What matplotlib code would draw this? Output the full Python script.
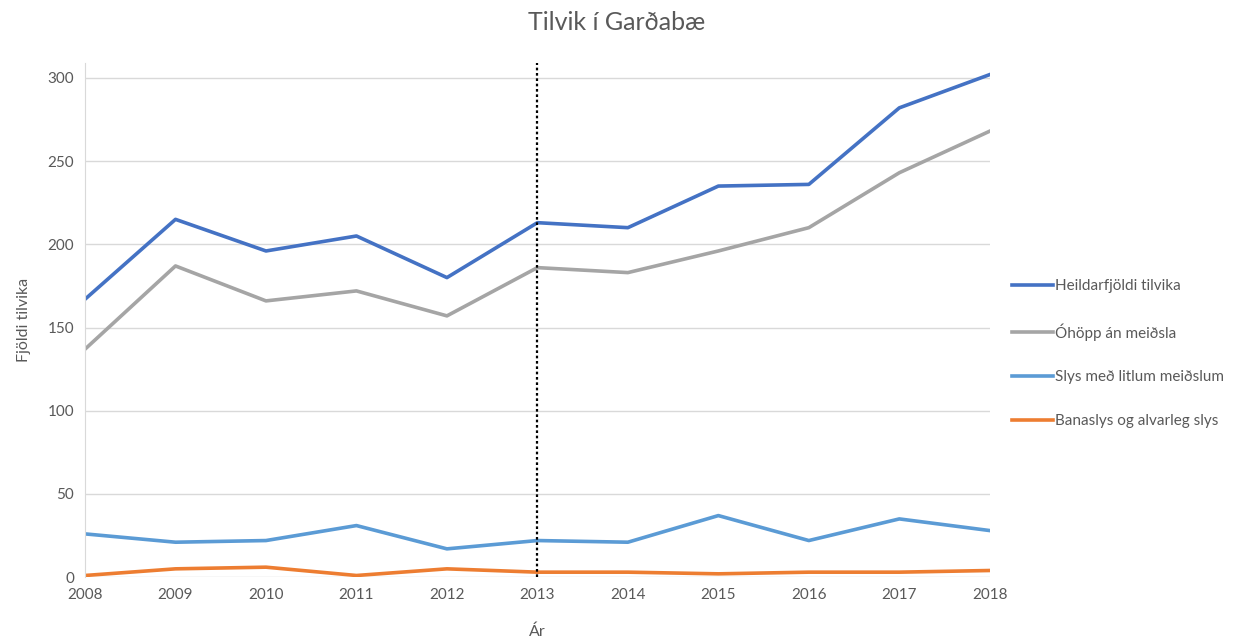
import matplotlib.pyplot as plt
import numpy as np

plt.rcParams['font.family'] = ['Lato', 'DejaVu Sans']

ar = [2008, 2009, 2010, 2011, 2012, 2013, 2014, 2015, 2016, 2017, 2018]
heild = [167, 215, 196, 205, 180, 213, 210, 235, 236, 282, 302]
ohopp = [137, 187, 166, 172, 157, 186, 183, 196, 210, 243, 268]
litil = [26, 21, 22, 31, 17, 22, 21, 37, 22, 35, 28]
bana = [1, 5, 6, 1, 5, 3, 3, 2, 3, 3, 4]

textcol = '#595959'

fig = plt.figure(figsize=(12.54, 6.42), dpi=100)
ax = fig.add_axes([0.0678, 0.101, 0.7215, 0.801])

ax.plot(ar, heild, color='#4472C4', lw=2.6, label='Heildarfjöldi tilvika')
ax.plot(ar, ohopp, color='#A5A5A5', lw=2.6, label='Óhöpp án meiðsla')
ax.plot(ar, litil, color='#5B9BD5', lw=2.6, label='Slys með litlum meiðslum')
ax.plot(ar, bana, color='#ED7D31', lw=2.6, label='Banaslys og alvarleg slys')

# lóðrétt lína við 2013
ax.axvline(2013, color='black', lw=1.6, ls=(0, (1.2, 1.2)), zorder=5)

ax.set_xlim(2008, 2018)
ax.set_ylim(0, 309)
ax.set_xticks(ar)
ax.set_yticks([0, 50, 100, 150, 200, 250, 300])
ax.grid(axis='y', color='#d9d9d9', lw=1)
ax.set_axisbelow(True)
for s in ['top', 'right', 'bottom']:
    ax.spines[s].set_visible(False)
ax.spines['left'].set_color('#d9d9d9')
ax.tick_params(length=0, labelsize=11, colors=textcol, pad=8)

fig.text(617 / 1254, 1 - 22 / 642, 'Tilvik í Garðabæ', fontsize=18,
         color=textcol, ha='center', va='center')
ax.set_xlabel('Ár', fontsize=11.5, color=textcol, labelpad=16)
ax.set_ylabel('Fjöldi tilvika', fontsize=11.5, color=textcol, labelpad=12)

fig.legend(loc='center left', bbox_to_anchor=(0.796, 0.449), frameon=False,
           fontsize=11, handlelength=2.7, handletextpad=0.1,
           labelspacing=1.95, labelcolor=textcol)

fig.savefig('out.png', dpi=100)
